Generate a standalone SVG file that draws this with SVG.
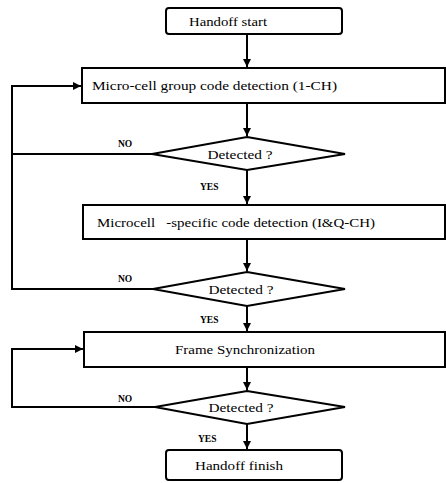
<svg xmlns="http://www.w3.org/2000/svg" width="446" height="483" viewBox="0 0 446 483">
<style>
.box{fill:#fff;stroke:#000;stroke-width:2}
.t{font-family:"Liberation Serif","Times New Roman",serif;font-size:13px;fill:#000}
.s{font-family:"Liberation Serif","Times New Roman",serif;font-size:9.5px;font-weight:bold;fill:#000}
.ln{fill:none;stroke:#000;stroke-width:2}
</style>
<defs>
<marker id="ah" viewBox="0 0 10 10" refX="10" refY="5" markerWidth="8" markerHeight="8" markerUnits="userSpaceOnUse" orient="auto">
<path d="M0,0 L10,5 L0,10 z" fill="#000"/>
</marker>
</defs>
<rect width="446" height="483" fill="#fff"/>
<g id="connectors">
<path class="ln" d="M247,34 V67" marker-end="url(#ah)"/>
<path class="ln" d="M247,103 V136" marker-end="url(#ah)"/>
<path class="ln" d="M247,170 V204" marker-end="url(#ah)"/>
<path class="ln" d="M247,239 V271" marker-end="url(#ah)"/>
<path class="ln" d="M247,306 V331" marker-end="url(#ah)"/>
<path class="ln" d="M247,367 V390" marker-end="url(#ah)"/>
<path class="ln" d="M247,424 V449" marker-end="url(#ah)"/>
<path class="ln" d="M152,154 H12 V86 H81" marker-end="url(#ah)"/>
<path class="ln" d="M153,289 H12 V154"/>
<path class="ln" d="M155,407 H12 V349 H83" marker-end="url(#ah)"/>
<text class="s" x="118" y="147">NO</text>
<text class="s" x="200" y="190">YES</text>
<text class="s" x="118" y="282">NO</text>
<text class="s" x="200" y="323">YES</text>
<text class="s" x="118" y="402">NO</text>
<text class="s" x="198" y="442">YES</text>
</g>
<g id="start">
<rect class="box" x="166" y="8" width="176" height="26" rx="3"/>
<text class="t" x="228" y="26" text-anchor="middle" textLength="78" lengthAdjust="spacingAndGlyphs">Handoff start</text>
</g>
<g id="group-detect">
<rect class="box" x="82" y="68" width="363" height="35"/>
<text class="t" x="92" y="90" textLength="245" lengthAdjust="spacingAndGlyphs">Micro-cell group code detection (1-CH)</text>
</g>
<g id="decision1">
<polygon class="box" points="247,137 345,154 247,170 152,154"/>
<text class="t" x="240" y="159" text-anchor="middle" textLength="65" lengthAdjust="spacingAndGlyphs">Detected ?</text>
</g>
<g id="specific-detect">
<rect class="box" x="83" y="205" width="362" height="34"/>
<text class="t" x="97" y="227" textLength="278" lengthAdjust="spacingAndGlyphs" xml:space="preserve">Microcell   -specific code detection (I&amp;Q-CH)</text>
</g>
<g id="decision2">
<polygon class="box" points="247,272 345,289 247,306 153,289"/>
<text class="t" x="241" y="294" text-anchor="middle" textLength="65" lengthAdjust="spacingAndGlyphs">Detected ?</text>
</g>
<g id="frame-sync">
<rect class="box" x="84" y="332" width="361" height="35"/>
<text class="t" x="245" y="354" text-anchor="middle" textLength="140" lengthAdjust="spacingAndGlyphs">Frame Synchronization</text>
</g>
<g id="decision3">
<polygon class="box" points="247,391 345,407 247,424 155,407"/>
<text class="t" x="241" y="412" text-anchor="middle" textLength="65" lengthAdjust="spacingAndGlyphs">Detected ?</text>
</g>
<g id="finish">
<rect class="box" x="166" y="450" width="176" height="30" rx="3"/>
<text class="t" x="239" y="470" text-anchor="middle" textLength="88" lengthAdjust="spacingAndGlyphs">Handoff finish</text>
</g>
</svg>
